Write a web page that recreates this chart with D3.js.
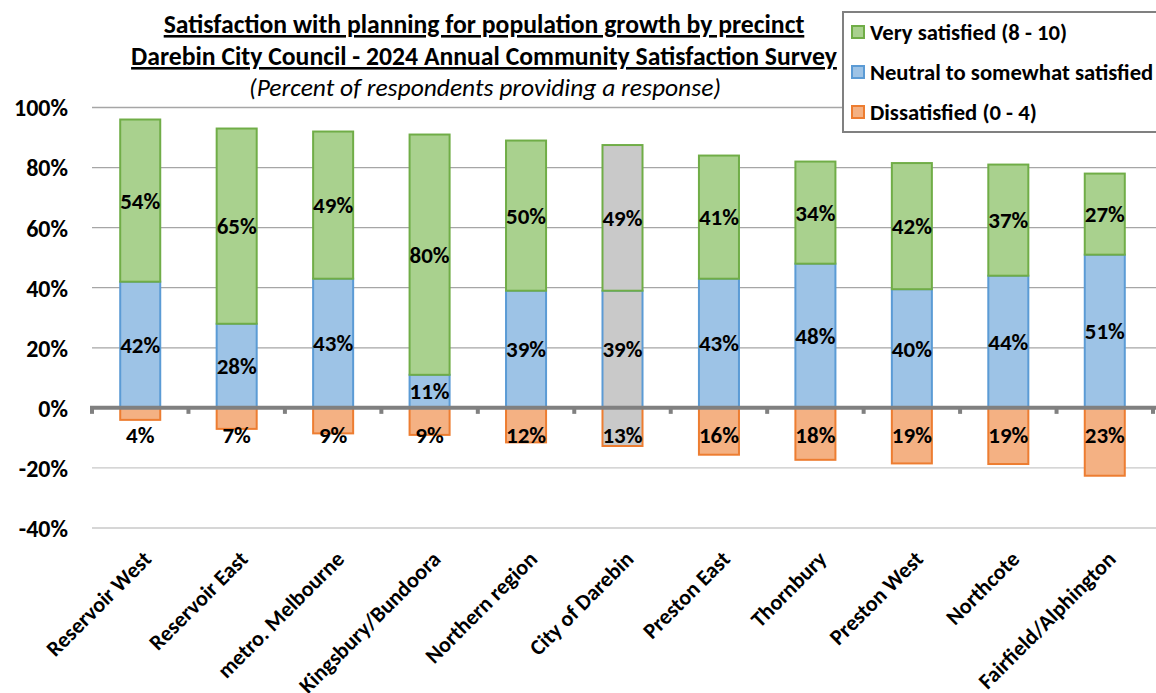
<!DOCTYPE html>
<html><head><meta charset="utf-8">
<script src="https://cdn.jsdelivr.net/npm/d3@7"></script>
<style>
body{margin:0;background:#fff;}
svg{display:block;font-family:Carlito,Calibri,Lato,"Open Sans",sans-serif;}
</style></head>
<body><svg id="c" width="1156" height="693"></svg>
<script>
const categories = ["Reservoir West","Reservoir East","metro. Melbourne","Kingsbury/Bundoora","Northern region","City of Darebin","Preston East","Thornbury","Preston West","Northcote","Fairfield/Alphington"];
const verySatisfied = [54,65,49,80,50,48.5,41,34,42,37,27];
const neutral = [42,28,43,11,39,39,43,48,39.5,44,51];
const dissatisfied = [4,7,8.5,9,11.5,12.7,15.6,17.3,18.5,18.7,22.6];
const verySatLabels = ["54%","65%","49%","80%","50%","49%","41%","34%","42%","37%","27%"];
const neutralLabels = ["42%","28%","43%","11%","39%","39%","43%","48%","40%","44%","51%"];
const dissLabels = ["4%","7%","9%","9%","12%","13%","16%","18%","19%","19%","23%"];
const highlight = "City of Darebin";
const yTicks = [-40,-20,0,20,40,60,80,100];
const seriesNames = ["Very satisfied (8 - 10)","Neutral to somewhat satisfied","Dissatisfied (0 - 4)"];
const titleLines = ["Satisfaction with planning for population growth by precinct","Darebin City Council - 2024 Annual Community Satisfaction Survey"];
const subtitle = "(Percent of respondents providing a response)";

const svg = d3.select("#c");
const x = d3.scaleBand().domain(categories).range([92,1153]).paddingInner(0.585).paddingOuter(0.2925);
const y = d3.scaleLinear().domain([-40,100]).range([528,107.5]);
const colors = {
  green:{fill:"#A9D18E",stroke:"#70AD47"},
  blue:{fill:"#9DC3E6",stroke:"#5B9BD5"},
  orange:{fill:"#F4B183",stroke:"#ED7D31"},
  grey:"#C9C9C9"
};

// gridlines
svg.append("g").selectAll("line").data(yTicks.filter(d=>d!==0)).join("line")
  .attr("x1",92).attr("x2",1156).attr("y1",d=>y(d)).attr("y2",d=>y(d))
  .attr("stroke",d=>d>0?"#A6A6A6":"#C8C8C8").attr("stroke-width",1.3);

// y axis labels
const yAxis = d3.axisLeft(y).tickValues(yTicks).tickFormat(d=>d+"%").tickSize(0).tickPadding(0);
const yg = svg.append("g").attr("transform","translate(68,0)").call(yAxis);
yg.select(".domain").remove();
yg.selectAll("text").attr("font-size",24).attr("font-weight","bold").attr("fill","#000").attr("font-family","Carlito,Calibri,Lato,sans-serif").attr("dy","0.35em");

const bars = svg.append("g");
categories.forEach((c,i)=>{
  const bx = x(c), bw = x.bandwidth();
  const grey = c===highlight;
  const n = neutral[i], v = verySatisfied[i], dd = dissatisfied[i];
  bars.append("rect").attr("x",bx).attr("width",bw).attr("y",y(n)).attr("height",y(0)-y(n))
    .attr("fill",grey?colors.grey:colors.blue.fill).attr("stroke",colors.blue.stroke).attr("stroke-width",2);
  bars.append("rect").attr("x",bx).attr("width",bw).attr("y",y(n+v)).attr("height",y(n)-y(n+v))
    .attr("fill",grey?colors.grey:colors.green.fill).attr("stroke",colors.green.stroke).attr("stroke-width",2);
  bars.append("rect").attr("x",bx).attr("width",bw).attr("y",y(0)).attr("height",y(-dd)-y(0))
    .attr("fill",grey?colors.grey:colors.orange.fill).attr("stroke",colors.orange.stroke).attr("stroke-width",2);
});

// zero axis with ticks
const zg = svg.append("g");
zg.append("line").attr("x1",90).attr("x2",1156).attr("y1",y(0)).attr("y2",y(0)).attr("stroke","#808080").attr("stroke-width",4);
const step = x.step();
const bounds = d3.range(categories.length+1).map(i=>92+i*step);
zg.selectAll("line.t").data(bounds).join("line").attr("class","t")
  .attr("x1",d=>d).attr("x2",d=>d).attr("y1",y(0)).attr("y2",y(0)+6).attr("stroke","#808080").attr("stroke-width",4);

// data labels
const lab = svg.append("g").attr("font-size",23).attr("font-weight","bold").attr("text-anchor","middle").attr("fill","#000");
categories.forEach((c,i)=>{
  const cx = x(c)+x.bandwidth()/2;
  const n = neutral[i], v = verySatisfied[i];
  lab.append("text").attr("x",cx).attr("y",y(n+v/2)).attr("dy","0.35em").text(verySatLabels[i]);
  lab.append("text").attr("x",cx).attr("y",y(n/2)).attr("dy","0.35em").text(neutralLabels[i]);
  lab.append("text").attr("x",cx).attr("y",y(-9)).attr("dy","0.35em").text(dissLabels[i]);
});

// x labels
const xl = svg.append("g").attr("font-size",22).attr("font-weight","bold").attr("fill","#000");
categories.forEach(c=>{
  const cx = x(c)+x.bandwidth()/2;
  xl.append("text").attr("transform",`translate(${cx+7},${555}) rotate(-45)`).attr("text-anchor","end").attr("dy","0.35em").text(c);
});

// title
const tg = svg.append("g").attr("text-anchor","middle").attr("fill","#000");
titleLines.forEach((t,i)=>{
  tg.append("text").attr("x",484).attr("y",33+i*32).attr("font-size",25.7).attr("font-weight","bold").attr("text-decoration","underline").text(t);
});
tg.append("text").attr("x",485).attr("y",96).attr("font-size",25.5).attr("font-style","italic").text(subtitle);

// legend
const lg = svg.append("g");
lg.append("rect").attr("x",843).attr("y",12).attr("width",330).attr("height",120).attr("fill","#fff").attr("stroke","#808080").attr("stroke-width",2);
const lc = [colors.green,colors.blue,colors.orange];
seriesNames.forEach((s,i)=>{
  const yy = 32+i*40;
  lg.append("rect").attr("x",852).attr("y",yy-6).attr("width",12).attr("height",12).attr("fill",lc[i].fill).attr("stroke",lc[i].stroke).attr("stroke-width",2);
  lg.append("text").attr("x",870).attr("y",yy).attr("dy","0.35em").attr("font-size",22.7).attr("font-weight","bold").attr("fill","#000").text(s);
});
</script></body></html>
